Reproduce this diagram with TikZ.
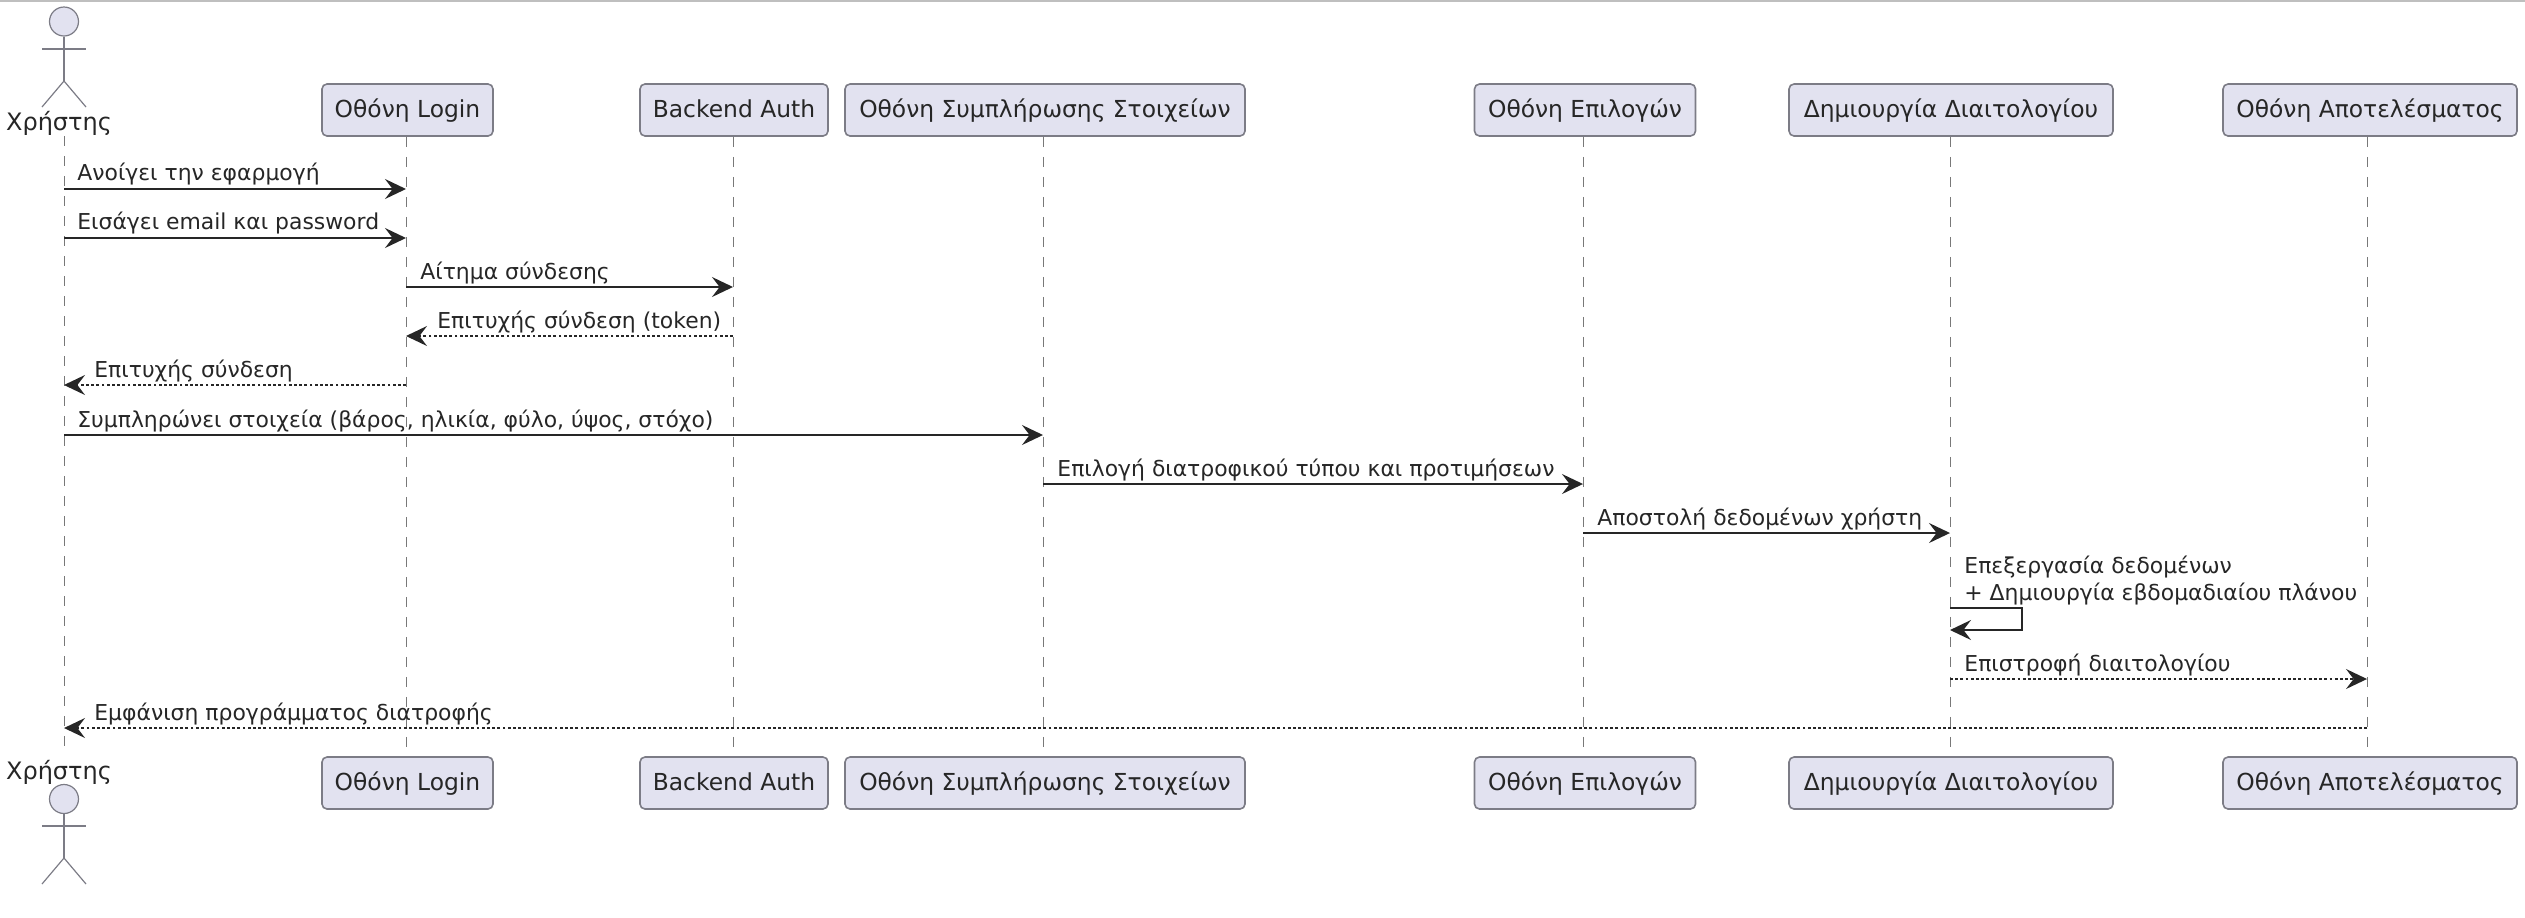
\documentclass[tikz,border=0pt]{standalone}
\usepackage{fontspec}
\setmainfont{DejaVu Sans}
\usetikzlibrary{arrows.meta,calc}
\definecolor{boxfill}{HTML}{E2E2F0}
\definecolor{boxline}{HTML}{7C7C86}
\definecolor{lifeline}{HTML}{787878}
\definecolor{inkc}{HTML}{262626}
\tikzset{
  x=0.5pt,y=-0.5pt,
  every node/.style={text=inkc,font=\fontsize{10.95}{13}\selectfont},
  part/.style={draw=boxline,fill=boxfill,line width=0.8pt,rounded corners=2.5pt,inner sep=0pt,
     minimum height=26pt,text height=10pt,text depth=2.2pt,align=center,font=\fontsize{11.7}{14}\selectfont},
  msglabel/.style={anchor=base west,inner sep=0pt},
  actorlab/.style={anchor=center,inner sep=0pt,text height=8.4pt,text depth=2.2pt,font=\fontsize{12}{14}\selectfont},
  lifel/.style={draw=lifeline,line width=0.5pt,dash pattern=on 5pt off 5pt},
  msg/.style={draw=inkc,line width=0.8pt,-{Stealth[length=10.5pt,width=10pt,inset=3.8pt]}},
  ret/.style={msg,line width=0.7pt,dash pattern=on 1.4pt off 1.2pt},
  stick/.style={draw=boxline,line width=0.6pt},
  head/.style={circle,draw=boxline,fill=boxfill,line width=0.6pt,minimum size=14.5pt,inner sep=0pt},
}
\begin{document}
\begin{tikzpicture}
\useasboundingbox (0,0) rectangle (2525,917);
\draw[draw=black!25,line width=1pt] (0,0.5) -- (2525,0.5);

% lifeline anchors of the actor
\coordinate (actorT) at (64,136);
\coordinate (actorB) at (64,755);

% participants, top
\node[part,minimum width=85.5pt] (loginT) at (407.5,110) {Οθόνη Login};
\node[part,minimum width=94pt] (authT) at (734,110) {Backend Auth};
\node[part,minimum width=200pt] (formT) at (1045,110) {Οθόνη Συμπλήρωσης Στοιχείων};
\node[part,minimum width=110.5pt] (optT) at (1585,110) {Οθόνη Επιλογών};
\node[part,minimum width=162pt] (dietT) at (1951,110) {Δημιουργία Διαιτολογίου};
\node[part,minimum width=147pt] (resT) at (2370,110) {Οθόνη Αποτελέσματος};

% participants, bottom
\node[part,minimum width=85.5pt] (loginB) at (407.5,783) {Οθόνη Login};
\node[part,minimum width=94pt] (authB) at (734,783) {Backend Auth};
\node[part,minimum width=200pt] (formB) at (1045,783) {Οθόνη Συμπλήρωσης Στοιχείων};
\node[part,minimum width=110.5pt] (optB) at (1585,783) {Οθόνη Επιλογών};
\node[part,minimum width=162pt] (dietB) at (1951,783) {Δημιουργία Διαιτολογίου};
\node[part,minimum width=147pt] (resB) at (2370,783) {Οθόνη Αποτελέσματος};

% lifelines
\coordinate (xlogin) at (406,0);
\coordinate (xauth) at (733,0);
\coordinate (xform) at (1043,0);
\coordinate (xopt) at (1583,0);
\coordinate (xdiet) at (1950,0);
\coordinate (xres) at (2367,0);
\coordinate (xactor) at (64,0);
\draw[lifel] (actorT) -- (actorB);
\foreach \p/\a in {xlogin/login,xauth/auth,xform/form,xopt/opt,xdiet/diet,xres/res}{
  \draw[lifel] (\p |- \a T.south) -- (\p |- \a B.north);
}

% actor top
\node[head] (headT) at (64,21.5) {};
\coordinate (bodyT) at (64,81);
\coordinate (armLT) at (42,49);
\coordinate (armRT) at (86,49);
\coordinate (legLT) at (42,107);
\coordinate (legRT) at (86,107);
\draw[stick] (headT.south) -- (bodyT);
\draw[stick] (armLT) -- (armRT);
\draw[stick] (legLT) -- (bodyT) -- (legRT);
\node[actorlab] (actorlabT) at (59,124) {Χρήστης};

% actor bottom
\node[actorlab] (actorlabB) at (59,773) {Χρήστης};
\node[head] (headB) at (64,799) {};
\coordinate (bodyB) at (64,858);
\coordinate (armLB) at (42,826);
\coordinate (armRB) at (86,826);
\coordinate (legLB) at (42,884);
\coordinate (legRB) at (86,884);
\draw[stick] (headB.south) -- (bodyB);
\draw[stick] (armLB) -- (armRB);
\draw[stick] (legLB) -- (bodyB) -- (legRB);

% rows
\foreach \n/\y in {r1/189,r2/238,r3/287,r4/336,r5/385,r6/435,r7/484,r8/533,r9/608,r10/630,r11/679,r12/728}{
  \coordinate (\n) at (0,\y);
}

% messages
\draw[msg] (xactor |- r1) -- (xlogin |- r1);
\draw[msg] (xactor |- r2) -- (xlogin |- r2);
\draw[msg] (xlogin |- r3) -- (xauth |- r3);
\draw[ret] (xauth |- r4) -- (xlogin |- r4);
\draw[ret] (xlogin |- r5) -- (xactor |- r5);
\draw[msg] (xactor |- r6) -- (xform |- r6);
\draw[msg] (xform |- r7) -- (xopt |- r7);
\draw[msg] (xopt |- r8) -- (xdiet |- r8);
\coordinate (loopx) at (2022,0);
\draw[msg] (xdiet |- r9) -- (loopx |- r9) -- (loopx |- r10) -- (xdiet |- r10);
\draw[ret] (xdiet |- r11) -- (xres |- r11);
\draw[ret] (xres |- r12) -- (xactor |- r12);

% message labels
\node[msglabel] (l1) at (77,180) {Ανοίγει την εφαρμογή};
\node[msglabel] (l2) at (77,229) {Εισάγει email και password};
\node[msglabel] (l3) at (420,279) {Αίτημα σύνδεσης};
\node[msglabel] (l4) at (437,328) {Επιτυχής σύνδεση (token)};
\node[msglabel] (l5) at (94,377) {Επιτυχής σύνδεση};
\node[msglabel] (l6) at (77,427) {Συμπληρώνει στοιχεία (βάρος, ηλικία, φύλο, ύψος, στόχο)};
\node[msglabel] (l7) at (1057,476) {Επιλογή διατροφικού τύπου και προτιμήσεων};
\node[msglabel] (l8) at (1597,525) {Αποστολή δεδομένων χρήστη};
\node[msglabel] (l9a) at (1964,573) {Επεξεργασία δεδομένων};
\node[msglabel] (l9b) at (1964,600) {+ Δημιουργία εβδομαδιαίου πλάνου};
\node[msglabel] (l10) at (1964,671) {Επιστροφή διαιτολογίου};
\node[msglabel] (l11) at (94,720) {Εμφάνιση προγράμματος διατροφής};
\end{tikzpicture}
\end{document}
